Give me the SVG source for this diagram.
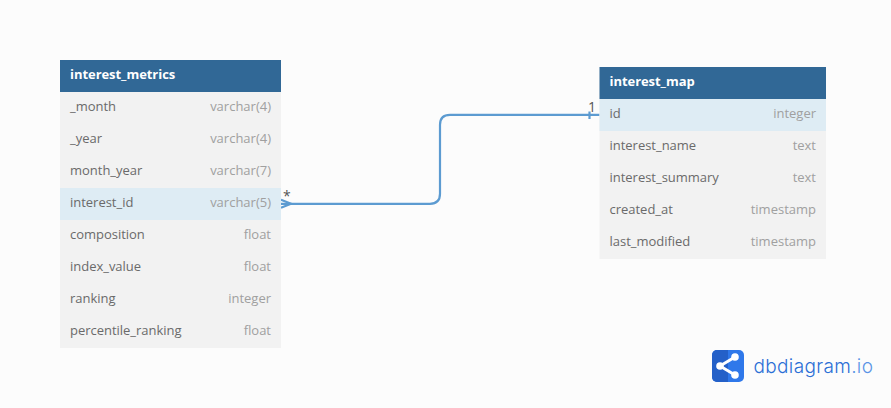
<svg xmlns="http://www.w3.org/2000/svg" width="891" height="408" viewBox="0 0 891 408">
<style>
text{font-family:"Open Sans","Noto Sans",sans-serif;font-size:13px}
.hd{fill:#316896}
.title{fill:#fff;font-weight:700;letter-spacing:-.05px}
.row{fill:#f2f2f2}
.hl{fill:#deecf4}
.n{fill:#6a6a6a;letter-spacing:-.02px}
.t{fill:#a0a0a0;text-anchor:end}
.conn{fill:none;stroke:#5c9bd1;stroke-width:2.2}
.card{fill:#555;font-size:14px}
</style>
<rect width="891" height="408" fill="#fcfcfc"/>
<g id="connectors">
<path class="conn" d="M281 203.800H430Q440 203.800 440 193.800V124.800Q440 114.800 450 114.800H600"/>
<path class="conn" d="M281 199.800L291 203.800L281 207.800"/>
<path class="conn" d="M589.500 111.500V119"/>
<text class="card" x="283" y="201">*</text>
<text class="card" x="588" y="111.500">1</text>
</g>
<g id="interest_metrics">
<rect class="row" x="60" y="60" width="221" height="288"/>
<rect class="hd" x="60" y="60" width="221" height="32"/>
<rect class="hl" x="60" y="188" width="221" height="32"/>
<text class="title" x="70" y="79">interest_metrics</text>
<text class="n" x="70" y="111">_month</text><text class="t" x="271" y="111">varchar(4)</text>
<text class="n" x="70" y="143">_year</text><text class="t" x="271" y="143">varchar(4)</text>
<text class="n" x="70" y="175">month_year</text><text class="t" x="271" y="175">varchar(7)</text>
<text class="n" x="70" y="207">interest_id</text><text class="t" x="271" y="207">varchar(5)</text>
<text class="n" x="70" y="239">composition</text><text class="t" x="271" y="239">float</text>
<text class="n" x="70" y="271">index_value</text><text class="t" x="271" y="271">float</text>
<text class="n" x="70" y="303">ranking</text><text class="t" x="271" y="303">integer</text>
<text class="n" x="70" y="335">percentile_ranking</text><text class="t" x="271" y="335">float</text>
</g>
<g id="interest_map">
<rect class="row" x="599.500" y="67" width="226.500" height="192"/>
<rect class="hd" x="599.500" y="67" width="226.500" height="32"/>
<rect class="hl" x="599.500" y="99" width="226.500" height="32"/>
<text class="title" x="609.500" y="86">interest_map</text>
<text class="n" x="609.500" y="118">id</text><text class="t" x="816" y="118">integer</text>
<text class="n" x="609.500" y="150">interest_name</text><text class="t" x="816" y="150">text</text>
<text class="n" x="609.500" y="182">interest_summary</text><text class="t" x="816" y="182">text</text>
<text class="n" x="609.500" y="214">created_at</text><text class="t" x="816" y="214">timestamp</text>
<text class="n" x="609.500" y="246">last_modified</text><text class="t" x="816" y="246">timestamp</text>
</g>
<g id="logo">
<rect x="712" y="350" width="32" height="32" rx="5" fill="#2f78ea"/>
<path d="M717 350H728V382H717A5 5 0 0 1 712 377V355A5 5 0 0 1 717 350Z" fill="#2460c8"/>
<path d="M720 366L735 357M720 366L735 375" stroke="#fff" stroke-width="3" fill="none"/>
<circle cx="720" cy="366" r="3.800" fill="#fff"/><circle cx="735" cy="357" r="3.800" fill="#fff"/><circle cx="735" cy="375" r="3.800" fill="#fff"/>
<text x="753.500" y="372.500" style="font-family:Inter,'Noto Sans',sans-serif;font-size:19px;font-weight:300;letter-spacing:.35px" fill="#2b6fd6">dbdiagram<tspan fill="#5a94e6">.io</tspan></text>
</g>
</svg>
